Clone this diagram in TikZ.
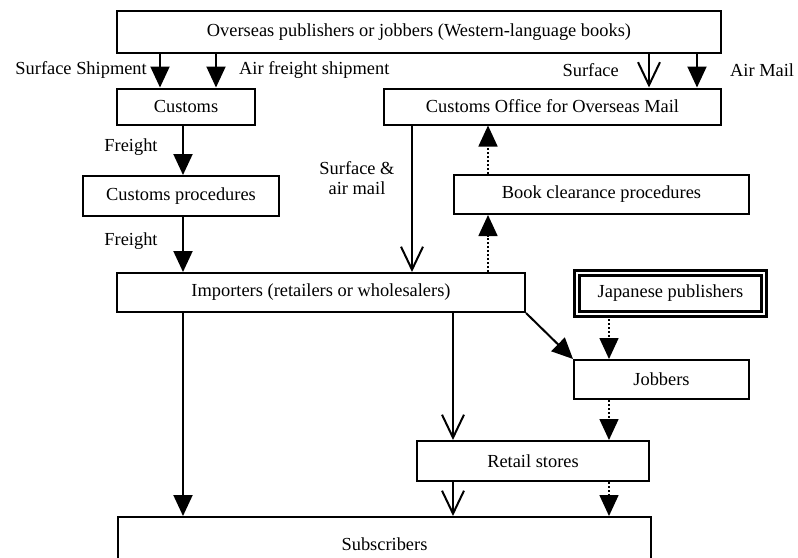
\documentclass[tikz,border=0pt]{standalone}
\usepackage{fontspec}
\setmainfont{Liberation Serif}
\usetikzlibrary{arrows.meta}
\begin{document}
\begin{tikzpicture}[x=1pt,y=-1pt,
  txt/.style={font=\fontsize{18.4}{20}\selectfont, inner sep=0pt},
  box/.style={txt, draw, line width=2pt, rectangle},
  solidfill/.style={line width=2pt, -{Triangle[length=21pt,width=19pt]}},
  solidopen/.style={line width=2pt, -{Straight Barb[length=23pt,width=22pt,line width=2pt]}},
  dotfill/.style={line width=1.6pt, dash pattern=on 1.6pt off 2.4pt, -{Triangle[length=21pt,width=19pt]}}
]
\path[use as bounding box, fill=white] (0,0) rectangle (798,557);
\clip (0,0) rectangle (798,557);

\node[box, minimum width=604pt, minimum height=42pt] (top) at (419,32) {Overseas publishers or jobbers (Western-language books)};
\node[box, minimum width=138pt, minimum height=36pt] (cust) at (186,106.5) {Customs};
\node[box, minimum width=337pt, minimum height=36pt] (office) at (552.5,106.5) {Customs Office for Overseas Mail};
\node[box, minimum width=196pt, minimum height=40pt] (proc) at (181,196) {Customs procedures};
\node[box, minimum width=295pt, minimum height=39pt] (book) at (601.5,194.5) {Book clearance procedures};
\node[box, minimum width=408pt, minimum height=39pt] (imp) at (321,292.5) {Importers (retailers or wholesalers)};
\node[box, double, double distance=2.4pt, line width=2.5pt, minimum width=187pt, minimum height=41pt] (jp) at (670.5,293.5) {Japanese publishers};
\node[box, minimum width=175pt, minimum height=39pt] (job) at (661.5,379.5) {Jobbers};
\node[box, minimum width=232pt, minimum height=40pt] (ret) at (533,461) {Retail stores};
\node[draw, line width=2pt, rectangle, minimum width=533pt, minimum height=60pt, inner sep=0pt] (sub) at (384.5,547) {};
\node[txt] (subt) at (384.5,544) {Subscribers};

% labels
\node[txt, anchor=east] (l1) at (147,70) {Surface Shipment};
\node[txt, anchor=west] (l2) at (239,70) {Air freight shipment};
\node[txt, anchor=east] (l3) at (619,70) {Surface};
\node[txt, anchor=west] (l4) at (730,70) {Air Mail};
\node[txt, align=center] (l5) at (357,178) {Surface \&\\air mail};
\node[txt] (l6) at (131,147) {Freight};
\node[txt] (l7) at (131,241) {Freight};

% connectors
\draw[solidfill] (160,0 |- top.south) -- (160,0 |- cust.north);
\draw[solidfill] (216,0 |- top.south) -- (216,0 |- cust.north);
\draw[solidopen] (649,0 |- top.south) -- (649,0 |- office.north);
\draw[solidfill] (697,0 |- top.south) -- (697,0 |- office.north);
\draw[solidfill] (183,0 |- cust.south) -- (183,0 |- proc.north);
\draw[solidfill] (183,0 |- proc.south) -- (183,0 |- imp.north);
\draw[solidopen] (412,0 |- office.south) -- (412,0 |- imp.north);
\draw[dotfill] (488,0 |- imp.north) -- (488,0 |- book.south);
\draw[dotfill] (488,0 |- book.north) -- (488,0 |- office.south);
\draw[solidfill] (imp.south east) -- (job.north west);
\draw[dotfill] (609,0 |- jp.south) -- (609,0 |- job.north);
\draw[solidopen] (453,0 |- imp.south) -- (453,0 |- ret.north);
\draw[dotfill] (609,0 |- job.south) -- (609,0 |- ret.north);
\draw[solidfill] (183,0 |- imp.south) -- (183,0 |- sub.north);
\draw[solidopen] (453,0 |- ret.south) -- (453,0 |- sub.north);
\draw[dotfill] (609,0 |- ret.south) -- (609,0 |- sub.north);
\end{tikzpicture}
\end{document}
